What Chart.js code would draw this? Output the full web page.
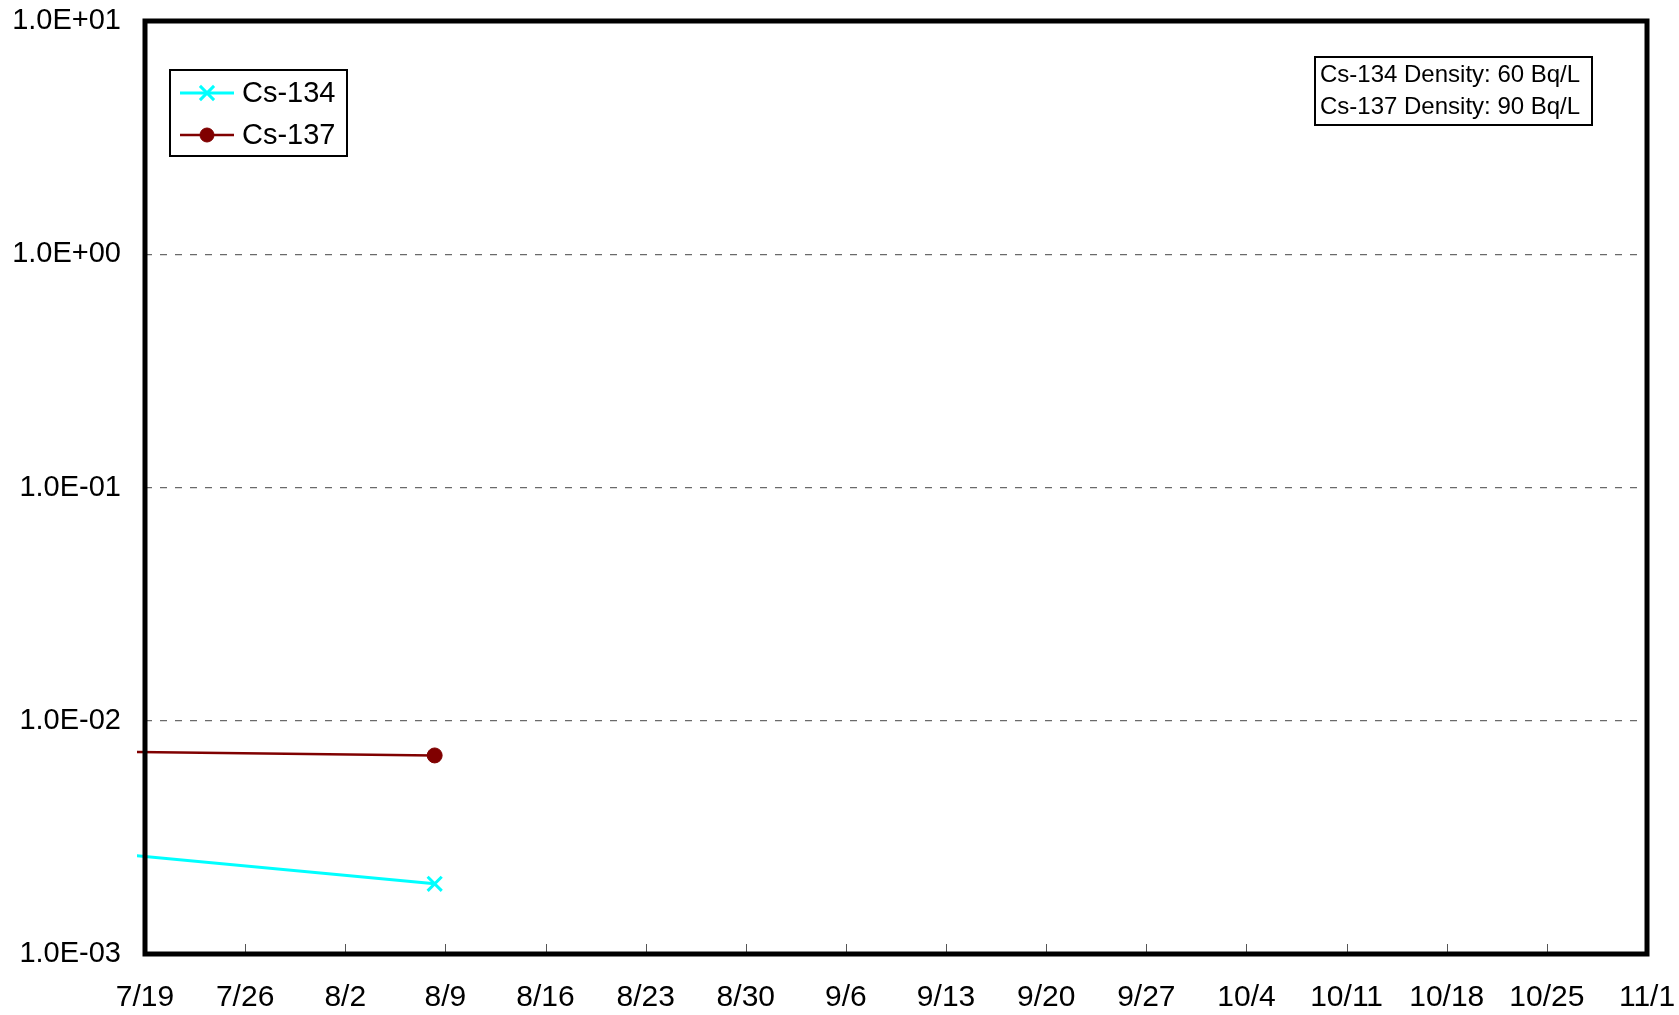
<!DOCTYPE html>
<html>
<head>
<meta charset="utf-8">
<script src="https://cdn.jsdelivr.net/npm/chart.js@4.4.1/dist/chart.umd.min.js"></script>
<style>
  html, body { margin: 0; padding: 0; background: #fff; }
  canvas { display: block; }
</style>
</head>
<body>
<canvas id="c" width="1679" height="1015"></canvas>
<script>
// Sampling times and measured concentrations (Bq/cm3)
const seriesNames = ['Cs-134', 'Cs-137'];
const sampleTimes = ['2011-07-12T00:00', '2011-08-08T06:00'];
const cs134Values = [0.00287, 0.0020];
const cs137Values = [0.00743, 0.0071];

// Axis ticks
const axisStart = '2011-07-19T00:00';
const xTickLabels = ['7/19', '7/26', '8/2', '8/9', '8/16', '8/23', '8/30', '9/6', '9/13',
                     '9/20', '9/27', '10/4', '10/11', '10/18', '10/25', '11/1'];
const yTickValues = [0.001, 0.01, 0.1, 1, 10];
const yTickLabels = ['1.0E-03', '1.0E-02', '1.0E-01', '1.0E+00', '1.0E+01'];

// Detection-limit note
const noteLines = ['Cs-134 Density: 60 Bq/L', 'Cs-137 Density: 90 Bq/L'];

const FONT = "'Liberation Sans', Arial, sans-serif";
Chart.defaults.font.family = FONT;
const DAY = 86400000;
const dayOffset = t => (Date.parse(t) - Date.parse(axisStart)) / DAY;
const toPoints = vals => vals.map((v, i) => ({ x: dayOffset(sampleTimes[i]), y: v }));

const seriesStyle = [
  { color: '#00FFFF', pointStyle: 'crossRot', radius: 10, width: 3, markerWidth: 3 },
  { color: '#800000', pointStyle: 'circle', radius: 7.5, width: 2.5, markerWidth: 1 }
];
const seriesValues = [cs134Values, cs137Values];

const datasets = seriesNames.map((name, i) => ({
  label: name,
  data: toPoints(seriesValues[i]),
  borderColor: seriesStyle[i].color,
  backgroundColor: seriesStyle[i].color,
  borderWidth: seriesStyle[i].width,
  pointStyle: seriesStyle[i].pointStyle,
  pointRadius: seriesStyle[i].radius,
  pointHoverRadius: seriesStyle[i].radius,
  pointBorderWidth: seriesStyle[i].markerWidth,
  tension: 0,
  clip: { left: 8, top: 0, right: 0, bottom: 0 }
}));

// Frame, inward x tick marks, legend and note box
const decorations = {
  id: 'decorations',
  afterDatasetsDraw(chart) {
    const { ctx, chartArea: a, scales } = chart;
    ctx.save();

    // inward tick marks on the date axis
    ctx.strokeStyle = '#555';
    ctx.lineWidth = 1;
    scales.x.ticks.forEach(t => {
      const px = Math.round(scales.x.getPixelForValue(t.value)) + 0.5;
      ctx.beginPath();
      ctx.moveTo(px, a.bottom);
      ctx.lineTo(px, a.bottom - 10);
      ctx.stroke();
    });

    // plot frame
    ctx.strokeStyle = '#000';
    ctx.lineWidth = 5;
    ctx.strokeRect(a.left, a.top, a.right - a.left, a.bottom - a.top);

    // legend
    const lx = a.left + 25, ly = a.top + 49, lw = 177, lh = 86;
    ctx.fillStyle = '#fff';
    ctx.fillRect(lx, ly, lw, lh);
    ctx.lineWidth = 2;
    ctx.strokeStyle = '#000';
    ctx.strokeRect(lx, ly, lw, lh);
    chart.data.datasets.forEach((ds, i) => {
      const cy = ly + 23 + i * 42;
      ctx.strokeStyle = ds.borderColor;
      ctx.lineWidth = ds.borderWidth;
      ctx.beginPath();
      ctx.moveTo(lx + 10, cy);
      ctx.lineTo(lx + 64, cy);
      ctx.stroke();
      ctx.fillStyle = ds.backgroundColor;
      ctx.lineWidth = ds.pointBorderWidth;
      Chart.helpers.drawPoint(ctx, {
        pointStyle: ds.pointStyle,
        radius: ds.pointStyle === 'circle' ? 7 : 10,
        rotation: 0,
        borderWidth: ds.pointBorderWidth
      }, lx + 37, cy);
      ctx.fillStyle = '#000';
      ctx.font = `29px ${FONT}`;
      ctx.textBaseline = 'middle';
      ctx.textAlign = 'left';
      ctx.fillText(ds.label, lx + 72, cy + 1);
    });

    // note box
    const nx = a.right - 332, ny = a.top + 36, nw = 277, nh = 68;
    ctx.fillStyle = '#fff';
    ctx.fillRect(nx, ny, nw, nh);
    ctx.strokeStyle = '#000';
    ctx.lineWidth = 2;
    ctx.strokeRect(nx, ny, nw, nh);
    ctx.fillStyle = '#000';
    ctx.font = `24px ${FONT}`;
    ctx.textBaseline = 'middle';
    noteLines.forEach((line, i) => ctx.fillText(line, nx + 5, ny + 18 + i * 32));

    ctx.restore();
  }
};

new Chart(document.getElementById('c'), {
  type: 'line',
  data: { datasets },
  options: {
    responsive: false,
    animation: false,
    devicePixelRatio: 1,
    layout: { padding: { top: 21, right: 32, left: 0, bottom: 0 } },
    plugins: { legend: { display: false }, tooltip: { enabled: false } },
    scales: {
      x: {
        type: 'linear',
        min: 0,
        max: 105,
        ticks: {
          stepSize: 7,
          autoSkip: false,
          maxRotation: 0,
          color: '#000',
          padding: 26,
          font: { family: FONT, size: 30 },
          callback: (v) => xTickLabels[Math.round(v / 7)]
        },
        grid: { drawOnChartArea: false, drawTicks: false },
        border: { display: false },
        afterFit: s => { s.height = 61; s.paddingLeft = 0; s.paddingRight = 0; }
      },
      y: {
        type: 'logarithmic',
        min: 0.001,
        max: 10,
        afterBuildTicks: s => { s.ticks = yTickValues.map(v => ({ value: v })); },
        ticks: {
          color: '#000',
          padding: 24,
          font: { family: FONT, size: 29 },
          callback: (v, i) => yTickLabels[i]
        },
        grid: {
          drawTicks: false,
          color: '#6a6a6a',
          lineWidth: 1.2
        },
        border: { display: false, dash: [7, 8] },
        afterFit: s => { s.width = 145; s.paddingTop = 0; s.paddingBottom = 0; }
      }
    }
  },
  plugins: [decorations]
});
</script>
</body>
</html>
